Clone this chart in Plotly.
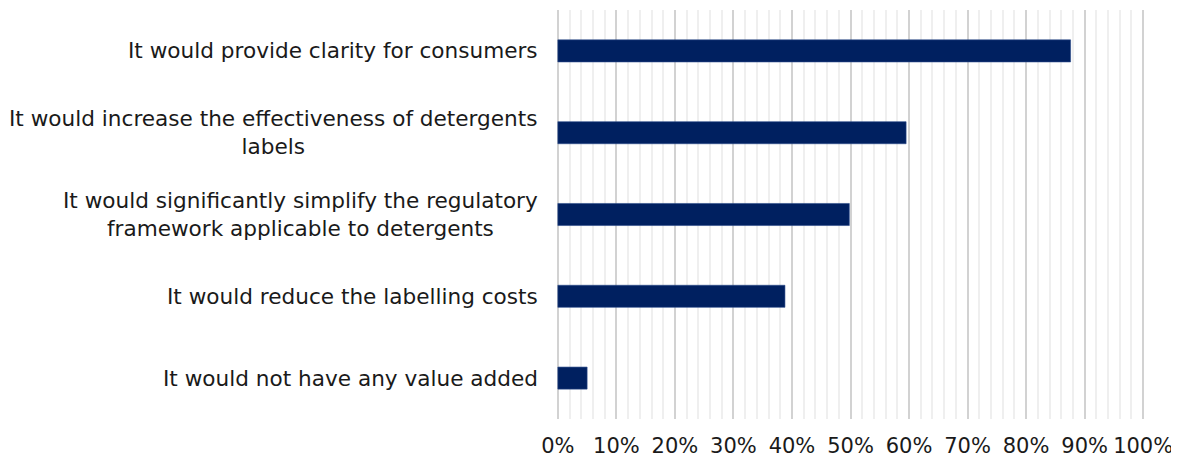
import plotly.graph_objects as go

categories = [
    "It would provide clarity for consumers",
    "It would increase the effectiveness of detergents<br>labels",
    "It would significantly simplify the regulatory<br>framework applicable to detergents",
    "It would reduce the labelling costs",
    "It would not have any value added",
]
values = [87.6, 59.5, 49.8, 38.8, 5.0]
tick_vals = list(range(0, 101, 10))
tick_text = [f"{v}%" for v in tick_vals]

FONT = "DejaVu Sans"
LABEL_SIZE = 21.6

fig = go.Figure()
fig.add_trace(go.Bar(
    x=values,
    y=categories,
    orientation="h",
    marker=dict(color="#002060", line=dict(color="#2a4a8a", width=0.6)),
    width=0.27,
))

for c in categories:
    fig.add_annotation(
        x=0, xref="x", xanchor="right", xshift=-18,
        y=c, yref="y", yanchor="middle",
        text=c, showarrow=False, align="center",
        font=dict(family=FONT, size=LABEL_SIZE, color="#1a1a1a"),
    )

# page body has an 8px default margin, so the figure is sized to fit inside
fig.update_layout(
    width=1171, height=451,
    margin=dict(l=544, r=30, t=2, b=40, autoexpand=False),
    paper_bgcolor="white", plot_bgcolor="white",
    showlegend=False,
    font=dict(family=FONT, size=LABEL_SIZE, color="#1a1a1a"),
)
fig.update_xaxes(
    range=[-1, 101], automargin=False,
    tickvals=tick_vals, ticktext=tick_text,
    showgrid=True, gridcolor="#d2d2d2", gridwidth=2,
    minor=dict(tick0=0, dtick=2, showgrid=True, gridcolor="#efefef", gridwidth=2),
    zeroline=False, showline=False,
    ticks="", ticklabelstandoff=12,
    tickfont=dict(family=FONT, size=21, color="#1a1a1a"),
)
fig.update_yaxes(
    categoryorder="array", categoryarray=categories[::-1], automargin=False,
    showticklabels=False, showgrid=False, zeroline=False, showline=False,
)

fig.write_html("out.html")
